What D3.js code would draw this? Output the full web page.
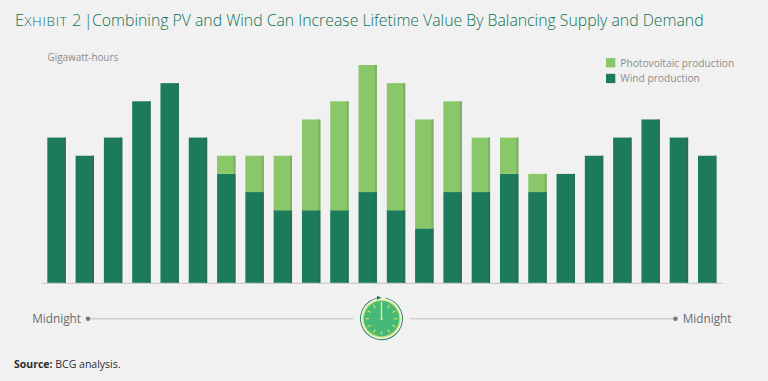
<!DOCTYPE html>
<html>
<head>
<meta charset="utf-8">
<script src="https://cdn.jsdelivr.net/npm/d3@7"></script>
<style>
  html, body { margin: 0; padding: 0; background: #f1f1f1; }
  svg { display: block; }
  text { font-family: "Open Sans", sans-serif; }
</style>
</head>
<body>
<svg id="chart" width="768" height="381"></svg>
<script>
// one bar per hour, midnight to midnight
const hours = d3.range(24)
const wind = [8, 7, 8, 10, 11, 8, 6, 5, 4, 4, 4, 5, 4, 3, 5, 5, 6, 5, 6, 7, 8, 9, 8, 7]
const solar = [0, 0, 0, 0, 0, 0, 1, 2, 3, 5, 6, 7, 7, 6, 5, 3, 2, 1, 0, 0, 0, 0, 0, 0]
const legendLabels = ['Photovoltaic production', 'Wind production']

const green = '#1c7c5a'
const lightGreen = '#8ac768'
const shadeGreen = '#2b6e55'
const shadeLight = '#7fae68'

const svg = d3.select('#chart')

const x = d3.scaleBand()
  .domain(hours)
  .range([41, 722.7])
  .paddingInner(0.35)
  .paddingOuter(0.223)

const y = d3.scaleLinear()
  .domain([0, 12])
  .range([282.8, 65])

// baseline
svg.append('g')
  .attr('transform', `translate(0, ${y(0)})`)
  .call(d3.axisBottom(x).tickValues([]).tickSizeOuter(0))
  .select('.domain')
  .attr('stroke', '#c4c6c4')

const stack = d3.stack().keys(['wind', 'solar'])
const layers = stack(hours.map(h => ({wind: wind[h], solar: solar[h]})))
const fills = {wind: green, solar: lightGreen}
const shades = {wind: shadeGreen, solar: shadeLight}

const groups = svg.append('g')
  .selectAll('g')
  .data(layers)
  .join('g')

groups.selectAll('rect.bar')
  .data(d => d.map((v, i) => ({key: d.key, hour: i, y0: v[0], y1: v[1]})).filter(d => d.y1 > d.y0))
  .join('rect')
  .attr('class', 'bar')
  .attr('x', d => x(d.hour))
  .attr('width', x.bandwidth())
  .attr('y', d => y(d.y1))
  .attr('height', d => y(d.y0) - y(d.y1))
  .attr('fill', d => fills[d.key])

// darker sliver down the right side of each bar
groups.selectAll('rect.shade')
  .data(d => d.map((v, i) => ({key: d.key, hour: i, y0: v[0], y1: v[1]})).filter(d => d.y1 > d.y0))
  .join('rect')
  .attr('class', 'shade')
  .attr('x', d => x(d.hour) + x.bandwidth() - 2)
  .attr('width', 2)
  .attr('y', d => y(d.y1))
  .attr('height', d => y(d.y0) - y(d.y1))
  .attr('fill', d => shades[d.key])

// title
const title = svg.append('text')
  .attr('x', 15)
  .attr('y', 26)
  .attr('fill', '#0e7255')
  .attr('font-size', 15.8)
  .attr('font-weight', 300)
title.append('tspan').attr('font-size', 16.5).text('E')
title.append('tspan').attr('font-size', 13.5).attr('letter-spacing', 0.7).text('XHIBIT')
title.append('tspan').attr('font-size', 16.5).attr('x', 72).text('2')
title.append('tspan').attr('x', 84).text('|')
title.append('tspan').attr('x', 92).text('Combining PV and Wind Can Increase Lifetime Value By Balancing Supply and Demand')

svg.append('text')
  .attr('x', 47.5)
  .attr('y', 61)
  .attr('fill', '#8c8c8c')
  .attr('font-size', 9.9)
  .text('Gigawatt-hours')

// legend
const legendY = d3.scalePoint().domain(legendLabels).range([62.8, 78.5])
const legend = svg.append('g')
  .selectAll('g')
  .data(legendLabels)
  .join('g')
  .attr('transform', d => `translate(606, ${legendY(d)})`)

legend.append('rect')
  .attr('y', -4.7)
  .attr('width', 9.3)
  .attr('height', 9.3)
  .attr('fill', (d, i) => i === 0 ? lightGreen : green)

legend.append('text')
  .attr('x', 14.3)
  .attr('y', 3.7)
  .attr('fill', '#8c8c8c')
  .attr('font-size', 10.2)
  .text(d => d)

// midnight to midnight time line
const timeY = 318.7
const line = svg.append('g').attr('stroke', '#cfcfcf').attr('stroke-width', 1.5)
line.append('line').attr('x1', 88).attr('x2', 353).attr('y1', timeY).attr('y2', timeY)
line.append('line').attr('x1', 410).attr('x2', 675).attr('y1', timeY).attr('y2', timeY)

svg.selectAll('circle.end')
  .data([88, 675.5])
  .join('circle')
  .attr('class', 'end')
  .attr('cx', d => d)
  .attr('cy', timeY)
  .attr('r', 2.3)
  .attr('fill', '#77797b')

svg.selectAll('text.mid')
  .data([{x: 81, a: 'end'}, {x: 682.7, a: 'start'}])
  .join('text')
  .attr('class', 'mid')
  .attr('x', d => d.x)
  .attr('y', timeY + 4.5)
  .attr('text-anchor', d => d.a)
  .attr('fill', '#6a6c6e')
  .attr('font-size', 11.8)
  .text('Midnight')

// clock
const clock = svg.append('g').attr('transform', `translate(381.5, ${timeY})`)
clock.append('path')
  .attr('d', d3.arc().innerRadius(20.6).outerRadius(21.5).startAngle(0.2).endAngle(2 * Math.PI - 0.15)())
  .attr('fill', '#1c7c5a')
clock.append('path')
  .attr('d', 'M-4.5,-19 L0,-21 L-4.5,-23 Z')
  .attr('fill', '#1c7c5a')
clock.append('circle').attr('r', 19).attr('fill', '#c9e265')
clock.append('circle').attr('r', 17.7).attr('fill', '#46b978')
clock.selectAll('line.tick')
  .data(d3.range(12))
  .join('line')
  .attr('class', 'tick')
  .attr('x1', d => 12.5 * Math.sin(d * Math.PI / 6))
  .attr('y1', d => -12.5 * Math.cos(d * Math.PI / 6))
  .attr('x2', d => 16 * Math.sin(d * Math.PI / 6))
  .attr('y2', d => -16 * Math.cos(d * Math.PI / 6))
  .attr('stroke', '#c9e265')
  .attr('stroke-width', 1.2)
clock.append('line')
  .attr('y1', 0).attr('y2', -17)
  .attr('stroke', '#e3ee9c')
  .attr('stroke-width', 1.3)
clock.append('circle').attr('r', 1.2).attr('fill', '#e3ee9c')

// source
const source = svg.append('text')
  .attr('x', 14)
  .attr('y', 368)
  .attr('fill', '#2c2c2c')
  .attr('font-size', 10.5)
source.append('tspan').attr('font-weight', 700).text('Source:')
source.append('tspan').text(' BCG analysis.')
</script>
</body>
</html>
